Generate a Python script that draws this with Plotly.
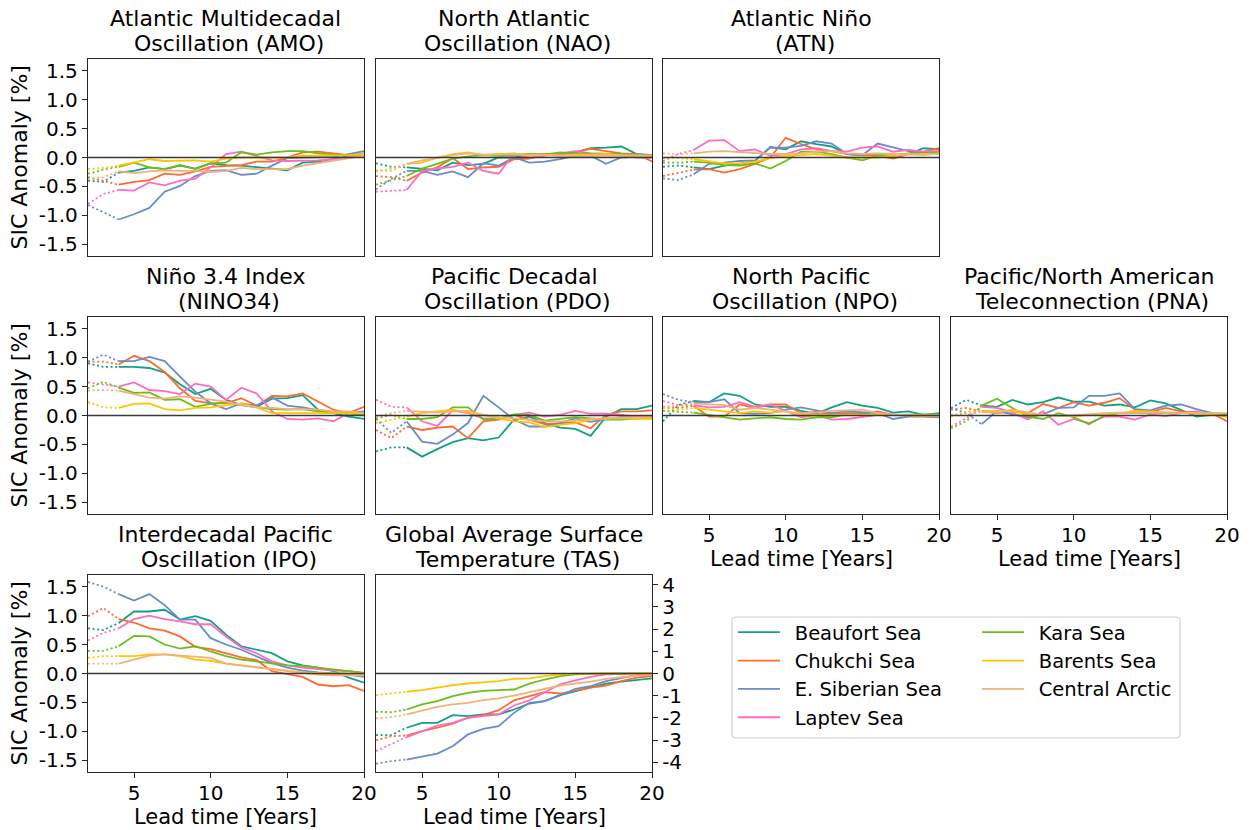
import plotly.graph_objects as go

# ---------------------------------------------------------------------------
# Data: sea-ice concentration anomaly [%] per region vs. lead time [years]
# ---------------------------------------------------------------------------
lead_years = list(range(2, 21))

regions = ["Beaufort Sea", "Chukchi Sea", "E. Siberian Sea", "Laptev Sea",
           "Kara Sea", "Barents Sea", "Central Arctic"]
region_colors = ["#12a085", "#ff6a2e", "#6a8cc9", "#ff6bc2",
                 "#6bbf1a", "#ffc600", "#f0b17b"]

# each list below holds one row per region, in the order of `regions`
amo = [
    [-0.40, -0.42, -0.26, -0.23, -0.17, -0.20, -0.14, -0.19, -0.10, -0.13, -0.14, -0.17, -0.20, -0.22, -0.09, -0.07, -0.03, 0.03, 0.07],
    [-0.34, -0.40, -0.47, -0.42, -0.39, -0.28, -0.30, -0.24, -0.16, -0.14, -0.13, -0.07, -0.07, 0.00, 0.09, 0.10, 0.07, 0.04, 0.06],
    [-0.82, -0.95, -1.07, -0.98, -0.87, -0.59, -0.49, -0.32, -0.23, -0.22, -0.30, -0.28, -0.14, -0.01, 0.00, 0.00, 0.01, 0.06, 0.11],
    [-0.80, -0.63, -0.56, -0.57, -0.43, -0.48, -0.40, -0.37, -0.17, 0.06, 0.10, 0.03, -0.05, -0.06, -0.06, -0.05, -0.03, 0.01, 0.03],
    [-0.28, -0.21, -0.16, -0.09, -0.17, -0.20, -0.13, -0.20, -0.10, -0.09, 0.09, 0.05, 0.09, 0.11, 0.11, 0.07, 0.05, 0.04, 0.05],
    [-0.20, -0.18, -0.14, -0.09, -0.03, -0.06, -0.05, -0.05, -0.07, -0.02, 0.00, 0.00, 0.00, 0.00, 0.03, 0.03, 0.04, 0.04, 0.06],
    [-0.37, -0.34, -0.24, -0.27, -0.24, -0.22, -0.23, -0.23, -0.25, -0.23, -0.18, -0.20, -0.20, -0.20, -0.14, -0.10, -0.06, -0.01, 0.03],
]
nao = [
    [-0.10, -0.16, -0.17, -0.20, -0.22, -0.09, -0.13, -0.11, 0.00, 0.00, 0.04, 0.06, 0.06, 0.09, 0.16, 0.17, 0.19, 0.06, 0.04],
    [-0.32, -0.34, -0.40, -0.26, -0.17, -0.01, -0.20, -0.17, -0.16, -0.03, -0.02, 0.06, 0.04, 0.09, 0.15, 0.11, 0.07, 0.06, -0.07],
    [-0.55, -0.37, -0.23, -0.23, -0.30, -0.24, -0.34, -0.10, -0.14, 0.00, -0.09, -0.07, -0.03, 0.03, 0.03, -0.11, 0.00, 0.01, 0.03],
    [-0.59, -0.57, -0.56, -0.23, -0.19, -0.16, -0.09, -0.23, -0.28, 0.07, -0.01, 0.03, 0.07, 0.11, 0.07, 0.06, 0.03, 0.00, 0.00],
    [-0.47, -0.40, -0.32, -0.19, -0.11, -0.02, 0.02, 0.04, 0.03, 0.04, 0.06, 0.05, 0.09, 0.07, 0.07, 0.07, 0.06, 0.04, 0.03],
    [-0.22, -0.23, -0.11, -0.09, 0.00, 0.06, 0.09, 0.04, 0.06, 0.07, 0.04, 0.05, 0.03, 0.05, 0.05, 0.06, 0.04, 0.03, 0.03],
    [-0.24, -0.19, -0.11, -0.05, -0.01, 0.04, 0.07, 0.05, 0.05, 0.06, 0.03, 0.04, 0.03, 0.03, 0.04, 0.03, 0.04, 0.04, 0.03],
]
atn = [
    [-0.16, -0.14, -0.17, -0.20, -0.14, -0.11, -0.06, 0.18, 0.14, 0.28, 0.23, 0.19, 0.06, 0.04, 0.04, 0.03, 0.06, 0.16, 0.14],
    [-0.32, -0.26, -0.21, -0.20, -0.26, -0.20, -0.11, 0.00, 0.34, 0.23, 0.14, 0.11, 0.06, 0.04, 0.03, -0.02, 0.06, 0.10, 0.16],
    [-0.36, -0.39, -0.29, -0.11, -0.09, -0.06, -0.05, 0.17, 0.17, 0.20, 0.28, 0.24, 0.06, 0.04, 0.24, 0.17, 0.11, 0.09, 0.06],
    [-0.06, 0.06, 0.13, 0.29, 0.30, 0.11, 0.14, 0.03, 0.06, 0.14, 0.16, 0.11, 0.10, 0.17, 0.19, 0.10, 0.13, 0.10, 0.11],
    [-0.09, -0.09, -0.07, -0.09, -0.13, -0.14, -0.10, -0.19, -0.06, 0.10, 0.10, 0.06, 0.00, -0.05, 0.03, 0.04, 0.07, 0.07, 0.09],
    [-0.01, -0.01, -0.03, -0.07, -0.10, -0.10, -0.07, -0.01, 0.03, 0.04, 0.06, 0.03, 0.00, 0.00, 0.00, 0.03, 0.06, 0.04, 0.07],
    [0.07, 0.06, 0.07, 0.10, 0.11, 0.09, 0.08, 0.06, 0.06, 0.07, 0.10, 0.11, 0.07, 0.06, 0.07, 0.06, 0.05, 0.06, 0.06],
]
nino34 = [
    [0.90, 0.84, 0.84, 0.84, 0.82, 0.74, 0.54, 0.37, 0.46, 0.27, 0.18, 0.15, 0.29, 0.30, 0.35, 0.10, 0.04, -0.02, -0.06],
    [0.93, 0.93, 0.88, 1.03, 0.94, 0.75, 0.47, 0.25, 0.21, 0.21, 0.30, 0.17, 0.34, 0.33, 0.38, 0.24, 0.10, 0.04, 0.15],
    [0.93, 1.05, 0.94, 0.94, 1.01, 0.94, 0.67, 0.41, 0.21, 0.11, 0.21, 0.17, 0.31, 0.17, 0.14, 0.09, 0.04, 0.04, 0.07],
    [0.57, 0.53, 0.50, 0.57, 0.44, 0.42, 0.37, 0.55, 0.50, 0.27, 0.48, 0.38, 0.07, -0.06, -0.07, -0.05, -0.10, 0.04, 0.04],
    [0.47, 0.58, 0.48, 0.39, 0.40, 0.27, 0.28, 0.15, 0.20, 0.23, 0.18, 0.14, 0.11, 0.10, 0.11, 0.07, 0.05, 0.02, 0.01],
    [0.23, 0.14, 0.13, 0.20, 0.21, 0.11, 0.09, 0.13, 0.14, 0.18, 0.21, 0.14, 0.04, 0.04, 0.04, 0.05, 0.04, 0.05, 0.04],
    [0.43, 0.44, 0.43, 0.37, 0.31, 0.29, 0.33, 0.31, 0.28, 0.24, 0.18, 0.14, 0.13, 0.11, 0.11, 0.10, 0.07, 0.07, 0.04],
]
pdo = [
    [-0.62, -0.55, -0.55, -0.71, -0.58, -0.46, -0.39, -0.43, -0.38, -0.07, -0.02, -0.13, -0.21, -0.23, -0.35, -0.02, 0.11, 0.11, 0.17],
    [-0.25, -0.39, -0.19, -0.25, -0.21, -0.19, -0.39, -0.10, -0.07, 0.01, -0.07, -0.15, -0.13, -0.12, -0.22, 0.01, 0.07, 0.07, 0.09],
    [-0.06, -0.30, -0.10, -0.45, -0.49, -0.33, -0.13, 0.34, 0.14, -0.07, -0.19, -0.19, -0.13, -0.05, -0.11, -0.06, -0.03, -0.03, -0.03],
    [0.27, 0.15, 0.14, -0.10, -0.18, 0.09, 0.04, -0.05, -0.05, 0.01, 0.05, -0.02, 0.01, 0.08, 0.03, 0.03, 0.01, -0.02, -0.03],
    [-0.05, 0.01, -0.06, -0.06, -0.03, 0.14, 0.14, -0.07, -0.06, 0.02, 0.01, -0.09, -0.06, -0.03, -0.05, -0.07, -0.07, -0.05, -0.03],
    [-0.13, -0.07, -0.02, 0.04, 0.07, 0.10, 0.05, 0.01, -0.05, -0.10, -0.12, -0.20, -0.16, -0.13, -0.07, -0.05, -0.05, -0.06, -0.06],
    [-0.02, 0.04, 0.08, 0.07, 0.05, 0.07, 0.08, 0.01, -0.03, -0.05, -0.07, -0.10, -0.10, -0.09, -0.06, -0.05, -0.03, -0.03, -0.03],
]
npo = [
    [-0.10, 0.18, 0.25, 0.23, 0.38, 0.34, 0.19, 0.15, 0.15, 0.08, 0.03, 0.14, 0.23, 0.17, 0.13, 0.05, 0.07, 0.01, 0.04],
    [0.13, 0.13, 0.17, -0.02, -0.02, 0.19, 0.13, 0.19, 0.19, 0.04, 0.06, 0.02, 0.04, 0.03, 0.07, 0.01, 0.00, -0.01, -0.02],
    [0.37, 0.27, 0.23, 0.23, 0.28, 0.04, 0.03, 0.04, 0.10, 0.14, 0.09, 0.04, 0.07, 0.06, 0.04, -0.06, -0.02, -0.02, -0.03],
    [0.25, 0.18, 0.18, 0.14, 0.15, 0.23, 0.15, 0.19, 0.08, -0.03, 0.01, -0.07, -0.06, -0.02, 0.01, 0.02, 0.00, -0.01, -0.02],
    [0.08, 0.07, 0.05, 0.01, -0.02, -0.07, -0.05, -0.03, -0.06, -0.07, -0.03, -0.03, 0.02, 0.01, 0.01, 0.01, 0.02, 0.02, 0.02],
    [0.13, 0.10, 0.13, 0.10, 0.08, 0.04, 0.07, 0.05, 0.07, 0.01, 0.01, 0.01, 0.02, 0.01, 0.01, 0.01, 0.00, -0.01, -0.01],
    [0.15, 0.17, 0.21, 0.20, 0.18, 0.10, 0.13, 0.10, 0.07, 0.04, 0.05, 0.08, 0.09, 0.10, 0.04, 0.01, 0.01, 0.00, 0.00],
]
pna = [
    [0.13, 0.27, 0.17, 0.15, 0.27, 0.19, 0.23, 0.31, 0.24, 0.24, 0.17, 0.19, 0.14, 0.26, 0.21, 0.10, -0.02, 0.01, 0.01],
    [0.10, 0.13, 0.07, 0.04, 0.07, 0.04, 0.20, 0.13, 0.23, 0.17, 0.22, 0.30, 0.10, 0.06, 0.13, 0.07, 0.05, 0.04, -0.10],
    [0.13, 0.04, -0.15, 0.08, 0.02, -0.03, 0.02, 0.13, 0.14, 0.34, 0.34, 0.38, 0.11, 0.09, 0.17, 0.19, 0.11, 0.04, -0.02],
    [-0.19, -0.05, 0.15, 0.13, 0.05, -0.07, 0.07, -0.16, -0.06, -0.13, -0.02, -0.02, -0.07, 0.02, -0.01, 0.04, 0.07, 0.02, 0.01],
    [-0.22, -0.10, 0.17, 0.29, 0.13, -0.02, -0.06, 0.04, -0.03, -0.15, 0.00, 0.04, 0.04, 0.04, 0.04, 0.04, 0.04, 0.04, 0.01],
    [-0.02, 0.07, 0.08, 0.08, 0.07, 0.02, 0.01, -0.01, -0.01, 0.01, 0.02, 0.04, 0.08, 0.07, 0.06, 0.05, 0.04, 0.02, -0.02],
    [0.01, 0.04, 0.06, 0.05, 0.10, 0.06, 0.01, -0.01, 0.01, 0.02, 0.04, 0.05, 0.04, 0.05, 0.05, 0.05, 0.04, 0.04, 0.04],
]
ipo = [
    [0.78, 0.75, 0.87, 1.07, 1.07, 1.10, 0.93, 0.99, 0.91, 0.67, 0.47, 0.41, 0.35, 0.21, 0.14, 0.10, 0.04, -0.07, -0.16],
    [0.99, 1.13, 0.94, 0.88, 0.78, 0.74, 0.64, 0.46, 0.42, 0.35, 0.28, 0.23, 0.04, -0.01, -0.06, -0.19, -0.22, -0.20, -0.30],
    [1.58, 1.50, 1.37, 1.26, 1.37, 1.18, 0.93, 0.93, 0.61, 0.50, 0.41, 0.30, 0.18, 0.10, 0.05, 0.02, 0.00, -0.02, -0.06],
    [0.57, 0.70, 0.78, 0.94, 1.00, 0.94, 0.90, 0.85, 0.85, 0.64, 0.45, 0.35, 0.21, 0.14, 0.10, 0.07, 0.05, 0.04, 0.01],
    [0.39, 0.39, 0.47, 0.65, 0.64, 0.50, 0.43, 0.47, 0.38, 0.30, 0.24, 0.21, 0.18, 0.14, 0.13, 0.10, 0.08, 0.05, 0.01],
    [0.27, 0.30, 0.30, 0.30, 0.33, 0.33, 0.30, 0.24, 0.22, 0.17, 0.14, 0.11, 0.08, 0.04, 0.02, 0.01, 0.00, 0.00, 0.00],
    [0.17, 0.17, 0.17, 0.24, 0.31, 0.33, 0.31, 0.29, 0.27, 0.17, 0.14, 0.11, 0.08, 0.04, 0.01, -0.02, -0.03, -0.03, -0.03],
]
tas = [
    [-2.77, -2.77, -2.44, -2.22, -2.22, -1.87, -1.92, -1.84, -1.84, -1.62, -1.35, -1.24, -0.97, -0.79, -0.64, -0.46, -0.37, -0.31, -0.22],
    [-3.00, -2.82, -2.79, -2.59, -2.44, -2.25, -1.99, -1.87, -1.65, -1.21, -1.02, -0.84, -0.90, -0.76, -0.64, -0.54, -0.34, -0.19, -0.12],
    [-4.06, -3.94, -3.87, -3.72, -3.60, -3.27, -2.74, -2.49, -2.37, -1.77, -1.32, -1.24, -0.99, -0.69, -0.57, -0.34, -0.19, -0.07, -0.04],
    [-3.49, -3.19, -2.86, -2.59, -2.34, -2.22, -1.99, -1.92, -1.84, -1.44, -1.21, -0.84, -0.49, -0.31, -0.15, -0.04, -0.01, 0.00, 0.00],
    [-1.72, -1.74, -1.62, -1.39, -1.24, -1.02, -0.87, -0.78, -0.75, -0.72, -0.46, -0.27, -0.12, -0.04, -0.02, 0.00, 0.01, 0.03, 0.03],
    [-0.97, -0.90, -0.82, -0.75, -0.64, -0.52, -0.45, -0.39, -0.34, -0.24, -0.22, -0.12, -0.04, -0.01, 0.00, 0.01, 0.03, 0.03, 0.03],
    [-2.02, -1.96, -1.84, -1.66, -1.50, -1.39, -1.32, -1.20, -1.12, -0.99, -0.84, -0.67, -0.54, -0.46, -0.37, -0.24, -0.15, -0.09, -0.04],
]

# panel titles (two lines each)
titles = [
    ("Atlantic Multidecadal", "Oscillation (AMO)"),
    ("North Atlantic", "Oscillation (NAO)"),
    ("Atlantic Niño", "(ATN)"),
    ("Niño 3.4 Index", "(NINO34)"),
    ("Pacific Decadal", "Oscillation (PDO)"),
    ("North Pacific", "Oscillation (NPO)"),
    ("Pacific/North American", "Teleconnection (PNA)"),
    ("Interdecadal Pacific", "Oscillation (IPO)"),
    ("Global Average Surface", "Temperature (TAS)"),
]
panel_data = [amo, nao, atn, nino34, pdo, npo, pna, ipo, tas]
panel_cells = [(0, 0), (0, 1), (0, 2), (1, 0), (1, 1), (1, 2), (1, 3), (2, 0), (2, 1)]

x_tick_vals = [5, 10, 15, 20]
y_tick_vals = [-1.5, -1.0, -0.5, 0.0, 0.5, 1.0, 1.5]
y_tick_text = ["-1.5", "-1.0", "-0.5", "0.0", "0.5", "1.0", "1.5"]
tas_tick_vals = [-4, -3, -2, -1, 0, 1, 2, 3, 4]
tas_tick_text = ["-4", "-3", "-2", "-1", "0", "1", "2", "3", "4"]

# ---------------------------------------------------------------------------
# Layout geometry (pixels)
# ---------------------------------------------------------------------------
W, H = 1250, 830
col_left = [88, 376, 663, 951]
panel_w = 276
row_top = [59, 317, 575]
panel_h = 197
n_skill = 3  # first three lead years are drawn dotted

FONT = "DejaVu Sans"
AX_COLOR = "#262626"
TICK_SIZE = 20
LABEL_SIZE = 22


def px_x(x):
    return x / W


def px_y(y):
    return 1 - y / H


fig = go.Figure()
layout_axes = {}
annotations = []
shapes = []

for i, (data, (r, c), (t1, t2)) in enumerate(zip(panel_data, panel_cells, titles)):
    n = i + 1
    xa = "x" if n == 1 else f"x{n}"
    ya = "y" if n == 1 else f"y{n}"
    is_tas = n == 9
    bottom_row = (r == 2) or (r == 1 and c >= 2)

    for k, (name, color) in enumerate(zip(regions, region_colors)):
        vals = data[k]
        fig.add_trace(go.Scatter(
            x=lead_years[:n_skill], y=vals[:n_skill], mode="lines",
            line=dict(color=color, width=1.8, dash="2px,2.6px"),
            xaxis=xa, yaxis=ya, showlegend=False, hoverinfo="skip"))
        fig.add_trace(go.Scatter(
            x=lead_years[n_skill - 1:], y=vals[n_skill - 1:], mode="lines",
            line=dict(color=color, width=1.8), name="\u2002" + name,
            xaxis=xa, yaxis=ya,
            showlegend=(n == 1),
            legend="legend" if k < 4 else "legend2",
            legendrank=k))

    x0, x1 = col_left[c], col_left[c] + panel_w
    y0, y1 = row_top[r], row_top[r] + panel_h
    xkey = "xaxis" if n == 1 else f"xaxis{n}"
    ykey = "yaxis" if n == 1 else f"yaxis{n}"
    layout_axes[xkey] = dict(
        domain=[px_x(x0), px_x(x1)], anchor=ya, range=[2, 20],
        showgrid=False, zeroline=False, showline=True, mirror=True,
        linecolor=AX_COLOR, linewidth=1.3,
        tickvals=x_tick_vals if bottom_row else [],
        showticklabels=bottom_row, ticks="outside" if bottom_row else "",
        ticklen=5, tickwidth=1.3, tickcolor=AX_COLOR, ticklabelstandoff=-2,
        tickfont=dict(size=TICK_SIZE, color="black"), automargin=False)
    if is_tas:
        layout_axes[ykey] = dict(
            domain=[px_y(y1), px_y(y0)], anchor=xa, range=[-4.43, 4.43],
            side="right", showgrid=False, zeroline=False, showline=True,
            mirror=True, linecolor=AX_COLOR, linewidth=1.3,
            tickvals=tas_tick_vals, ticktext=tas_tick_text, ticks="outside",
            ticklen=5, tickwidth=1.3, tickcolor=AX_COLOR,
            tickfont=dict(size=TICK_SIZE, color="black"), automargin=False)
    else:
        layout_axes[ykey] = dict(
            domain=[px_y(y1), px_y(y0)], anchor=xa, range=[-1.7, 1.7],
            showgrid=False, zeroline=False, showline=True, mirror=True,
            linecolor=AX_COLOR, linewidth=1.3,
            tickvals=y_tick_vals if c == 0 else [],
            ticktext=y_tick_text if c == 0 else [],
            showticklabels=(c == 0), ticks="outside" if c == 0 else "",
            ticklen=5, tickwidth=1.3, tickcolor=AX_COLOR,
            tickfont=dict(size=TICK_SIZE, color="black"), automargin=False)

    # zero reference line
    shapes.append(dict(type="line", xref=f"{xa} domain", yref=ya,
                       x0=0, x1=1, y0=0, y1=0,
                       line=dict(color="#3a3a3a", width=1.4), layer="above"))

    # two-line panel title
    cx = px_x((x0 + x1) / 2)
    annotations.append(dict(text=t1, x=cx, y=px_y(y0 - 41), xref="paper", yref="paper",
                            xanchor="center", yanchor="middle", showarrow=False,
                            font=dict(size=LABEL_SIZE, color="black")))
    annotations.append(dict(text="\u00a0" + t2, x=cx, y=px_y(y0 - 16), xref="paper", yref="paper",
                            xanchor="center", yanchor="middle", showarrow=False,
                            font=dict(size=LABEL_SIZE, color="black")))

    if bottom_row:
        annotations.append(dict(text="Lead time [Years]", x=cx, y=px_y(y1 + 58),
                                xref="paper", yref="paper", xanchor="center",
                                yanchor="bottom", showarrow=False, borderpad=0,
                                font=dict(size=21, color="black")))
    if c == 0:
        annotations.append(dict(text="SIC Anomaly [%]", x=px_x(19), y=px_y((y0 + y1) / 2),
                                xref="paper", yref="paper", xanchor="center",
                                yanchor="middle", textangle=-90, showarrow=False,
                                font=dict(size=LABEL_SIZE, color="black")))

# rounded frame around the two legend columns
bx0, bx1, by0, by1, rad = 732, 1180, 617, 738, 4
legend_frame = (
    f"M {px_x(bx0 + rad)} {px_y(by0)} L {px_x(bx1 - rad)} {px_y(by0)} "
    f"Q {px_x(bx1)} {px_y(by0)} {px_x(bx1)} {px_y(by0 + rad)} "
    f"L {px_x(bx1)} {px_y(by1 - rad)} Q {px_x(bx1)} {px_y(by1)} {px_x(bx1 - rad)} {px_y(by1)} "
    f"L {px_x(bx0 + rad)} {px_y(by1)} Q {px_x(bx0)} {px_y(by1)} {px_x(bx0)} {px_y(by1 - rad)} "
    f"L {px_x(bx0)} {px_y(by0 + rad)} Q {px_x(bx0)} {px_y(by0)} {px_x(bx0 + rad)} {px_y(by0)} Z"
)
shapes.append(dict(type="path", xref="paper", yref="paper", path=legend_frame,
                   line=dict(color="#d0d0d0", width=1.2), fillcolor="white",
                   layer="below"))

legend_style = dict(font=dict(size=19.5, color="black", family=FONT),
                    bgcolor="rgba(0,0,0,0)", borderwidth=0, itemwidth=42,
                    xanchor="left", yanchor="top", tracegroupgap=0,
                    itemclick=False, itemdoubleclick=False)

fig.update_layout(
    width=W, height=H,
    margin=dict(l=0, r=0, t=0, b=0),
    paper_bgcolor="white", plot_bgcolor="rgba(0,0,0,0)",
    font=dict(family=FONT, color="black"),
    annotations=annotations, shapes=shapes,
    legend=dict(x=px_x(733), y=px_y(613), **legend_style),
    legend2=dict(x=px_x(977), y=px_y(613), **legend_style),
    **layout_axes,
)

fig.write_html("out.html")
